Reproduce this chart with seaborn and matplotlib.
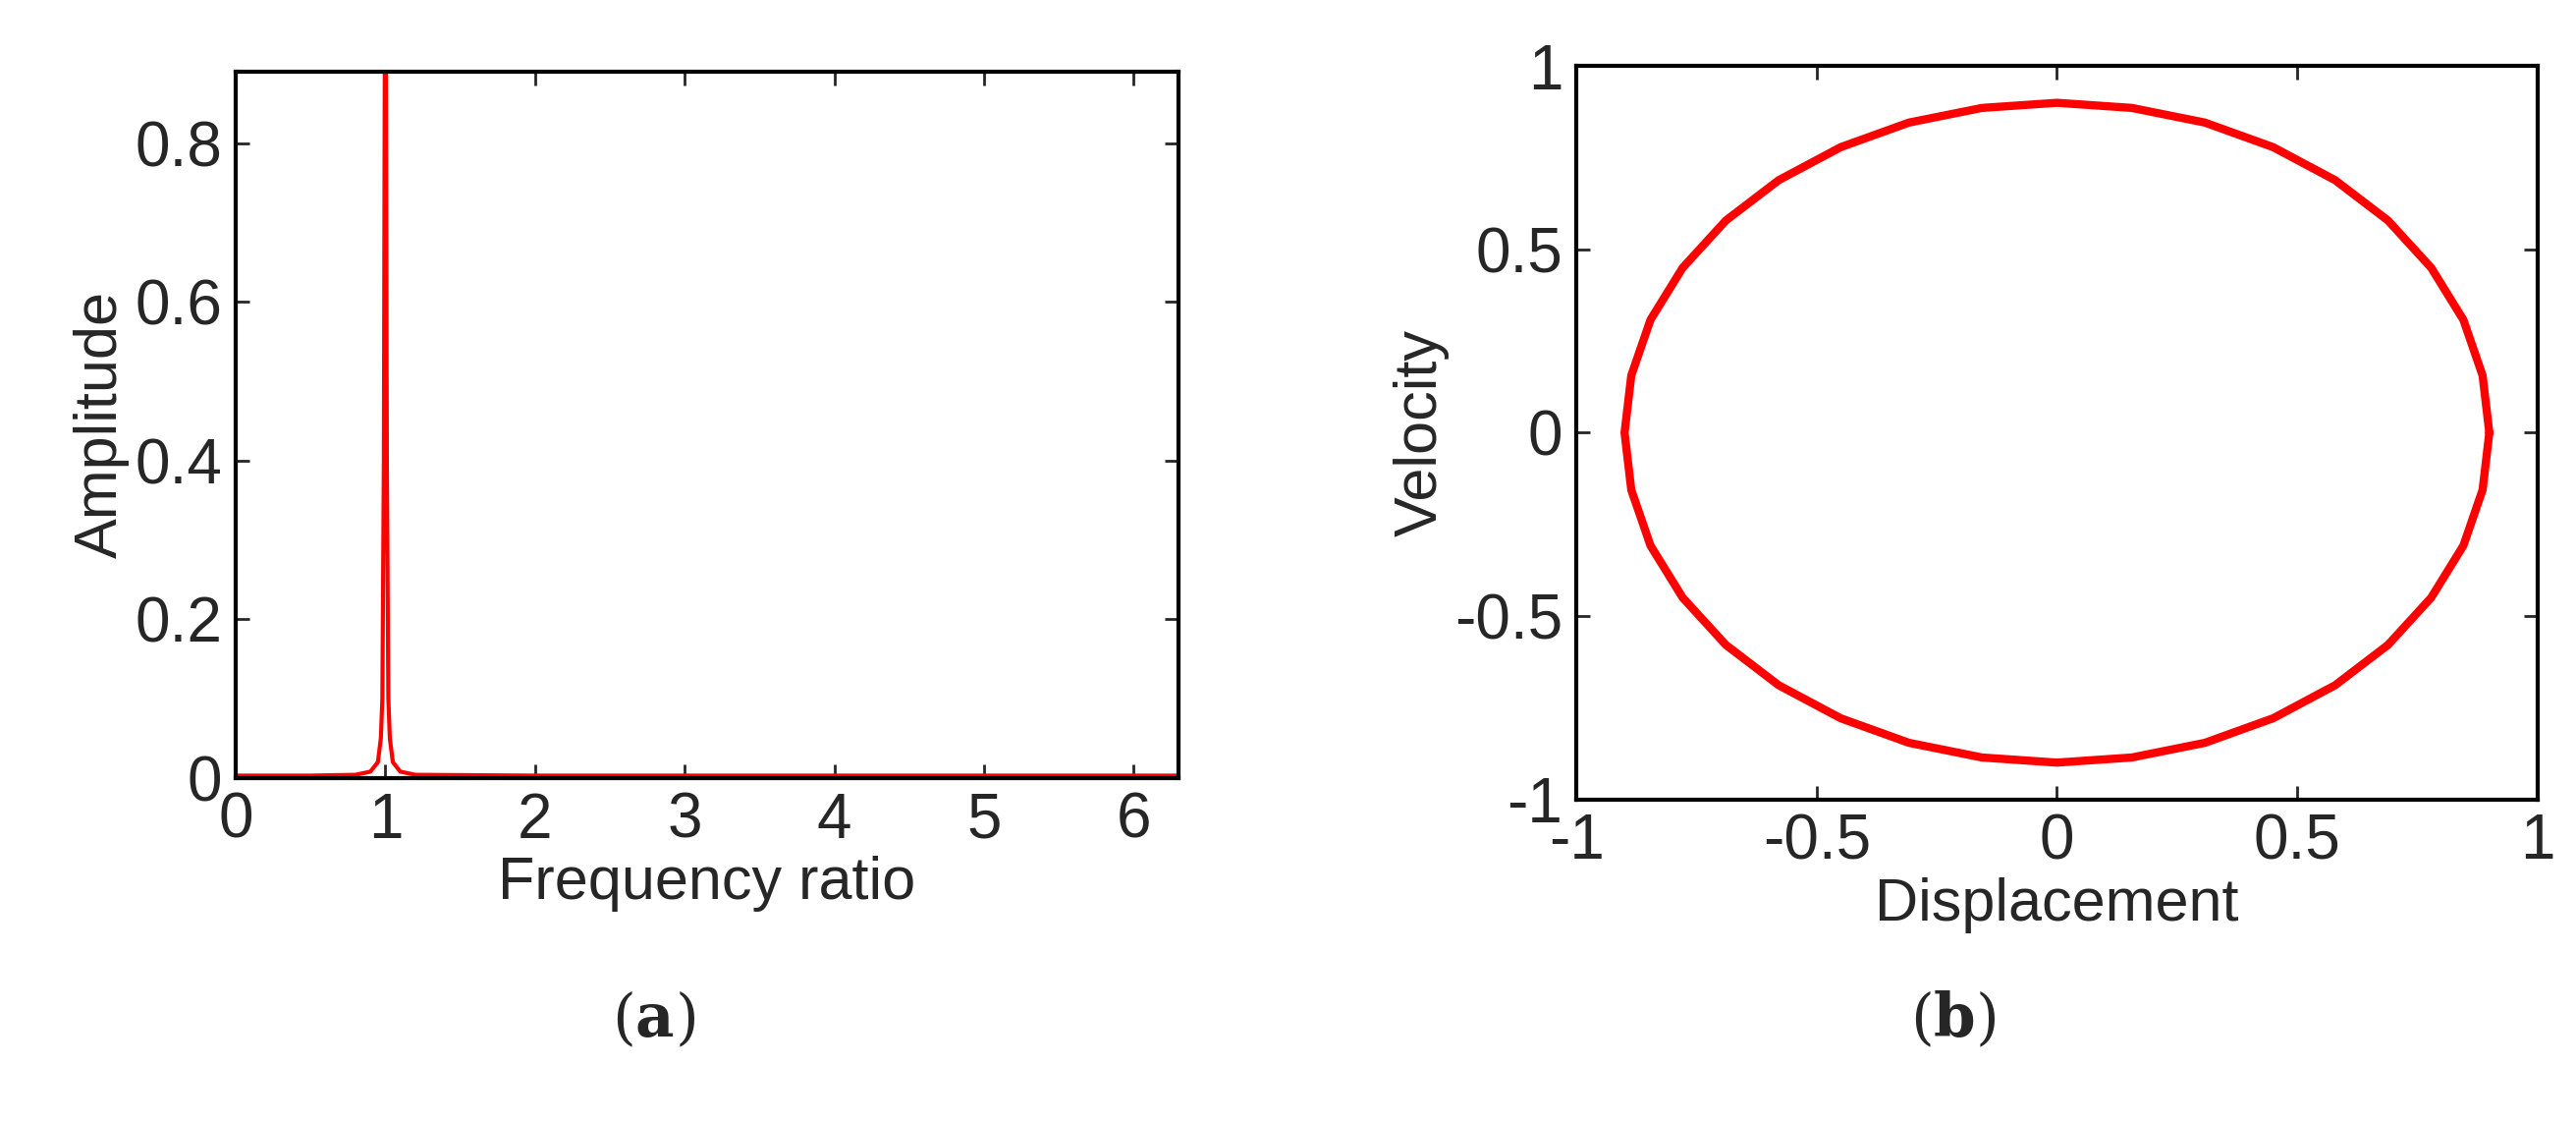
import matplotlib
matplotlib.use("Agg")
import matplotlib.pyplot as plt
import seaborn as sns
import pandas as pd

sns.set_style("white")
plt.rcParams['font.family'] = ['Liberation Sans', 'DejaVu Sans']

freq = [0.0, 0.5, 0.8, 0.9, 0.95, 0.97, 0.98, 0.99, 1.0, 1.01, 1.02, 1.03, 1.05, 1.1, 1.2, 2.0, 6.3]
amp = [0.003, 0.003, 0.004, 0.008, 0.02, 0.05, 0.1, 0.4, 1.2, 0.4, 0.1, 0.05, 0.02, 0.008, 0.004, 0.003, 0.003]

disp = [0.900, 0.886, 0.846, 0.779, 0.689, 0.579, 0.450, 0.308, 0.156, 0.0,
        -0.156, -0.308, -0.450, -0.579, -0.689, -0.779, -0.846, -0.886, -0.900,
        -0.886, -0.846, -0.779, -0.689, -0.579, -0.450, -0.308, -0.156, 0.0,
        0.156, 0.308, 0.450, 0.579, 0.689, 0.779, 0.846, 0.886, 0.900]
vel = [0.0, 0.156, 0.308, 0.450, 0.579, 0.689, 0.779, 0.846, 0.886, 0.900,
       0.886, 0.846, 0.779, 0.689, 0.579, 0.450, 0.308, 0.156, 0.0,
       -0.156, -0.308, -0.450, -0.579, -0.689, -0.779, -0.846, -0.886, -0.900,
       -0.886, -0.846, -0.779, -0.689, -0.579, -0.450, -0.308, -0.156, 0.0]

fig = plt.figure(figsize=(26.23, 11.41), dpi=100)
ax1 = fig.add_axes([0.0915, 0.306, 0.366, 0.630])
ax2 = fig.add_axes([0.612, 0.287, 0.373, 0.654])

sns.lineplot(x=freq, y=amp, ax=ax1, color='red', lw=3, sort=False, estimator=None)
ax1.set_xlim(0, 6.3)
ax1.set_ylim(0, 0.89)
ax1.set_xticks([0, 1, 2, 3, 4, 5, 6])
ax1.set_xticklabels(['0', '1', '2', '3', '4', '5', '6'])
ax1.set_yticks([0, 0.2, 0.4, 0.6, 0.8])
ax1.set_yticklabels(['0', '0.2', '0.4', '0.6', '0.8'])
ax1.set_xlabel('Frequency ratio', fontsize=44)
ax1.set_ylabel('Amplitude', fontsize=44, labelpad=4)

df = pd.DataFrame({'d': disp, 'v': vel})
sns.lineplot(data=df, x='d', y='v', ax=ax2, color='red', lw=6, sort=False, estimator=None)
ax2.set_xlim(-1, 1)
ax2.set_ylim(-1, 1)
ax2.set_xticks([-1, -0.5, 0, 0.5, 1])
ax2.set_xticklabels(['-1', '-0.5', '0', '0.5', '1'])
ax2.set_yticks([-1, -0.5, 0, 0.5, 1])
ax2.set_yticklabels(['-1', '-0.5', '0', '0.5', '1'])
ax2.set_xlabel('Displacement', fontsize=44)
ax2.set_ylabel('Velocity', fontsize=44, labelpad=4)

for ax in (ax1, ax2):
    for s in ax.spines.values():
        s.set_visible(True)
        s.set_color('black')
        s.set_linewidth(3)
    ax.tick_params(direction='in', length=10, width=2, labelsize=46,
                   top=True, right=True, bottom=True, left=True, pad=10)

fig.text(0.2465, 0.075, '(', fontsize=44, family='DejaVu Serif', ha='right')
fig.text(0.2465, 0.075, 'a', fontsize=44, family='DejaVu Serif', weight='bold', ha='left')
fig.text(0.2620, 0.075, ')', fontsize=44, family='DejaVu Serif', ha='left')
fig.text(0.7505, 0.075, '(', fontsize=44, family='DejaVu Serif', ha='right')
fig.text(0.7505, 0.075, 'b', fontsize=44, family='DejaVu Serif', weight='bold', ha='left')
fig.text(0.7670, 0.075, ')', fontsize=44, family='DejaVu Serif', ha='left')

fig.savefig('out.png', dpi=100)
